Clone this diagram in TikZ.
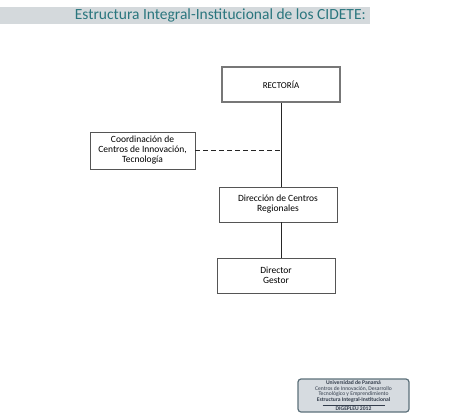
\documentclass[tikz,border=0pt]{standalone}
\usepackage{fontspec}
\setmainfont{Carlito}
\definecolor{tealtitulo}{RGB}{42,118,126}
\definecolor{grisbanda}{RGB}{212,217,220}
\definecolor{grisborde}{RGB}{85,85,85}
\definecolor{grispie}{RGB}{214,219,224}
\definecolor{bordepie}{RGB}{92,112,122}
\definecolor{textopie}{RGB}{50,60,75}

\begin{document}
\begin{tikzpicture}[x=1pt,y=-1pt,
    caja/.style={draw=grisborde, line width=0.9pt, inner sep=0pt, align=center,
        minimum width=118pt, minimum height=35pt,
        font=\fontsize{9.5}{10}\selectfont},
    linea/.style={draw=black!85, line width=0.8pt}]
\useasboundingbox (0,0) rectangle (474,418);
% banda del titulo
\fill[grisbanda] (0,7) rectangle (370,24);
\node[anchor=east, inner sep=0pt, text=tealtitulo, font=\fontsize{15.5}{17}\selectfont] (titulo) at (366,15.5) {Estructura Integral-Institucional de los CIDETE:};

\node[caja, line width=1.6pt, draw=grisborde!80, font=\fontsize{9}{10}\selectfont] at (281,84.5) (rectoria) {RECTORÍA};
\node[caja, minimum width=105pt, minimum height=37pt] at (142.5,150.5) (coordinacion) {Coordinación de\\Centros de Innovación,\\Tecnología};
\node[caja] at (278,204.5) (direccion) {Dirección de Centros\\Regionales};
\node[caja] at (276,275.5) (director) {Director\\Gestor};

\draw[linea] (rectoria.south) -- (rectoria.south |- direccion.north)
    (rectoria.south |- direccion.south) -- (rectoria.south |- director.north);
\draw[linea, dashed, dash pattern=on 4.5pt off 3.5pt] (coordinacion.east) -- (coordinacion.east -| rectoria.south);

% pie
\node[draw=bordepie, fill=grispie, line width=1.2pt, rounded corners=3pt, inner sep=0.5pt,
    minimum width=111pt, minimum height=33pt, align=center, text=textopie,
    font=\fontsize{5.6}{5.7}\selectfont] at (353.5,395.5) (pie)
    {\textbf{Universidad de Panamá}\\Centros de Innovación, Desarrollo\\Tecnológico y Emprendimiento\\\textbf{Estructura Integral-Institucional}\\[-2pt]\rule{62pt}{0.3pt}\\[-0.5pt]\textbf{DIGEPLEU 2012}};
\end{tikzpicture}
\end{document}
